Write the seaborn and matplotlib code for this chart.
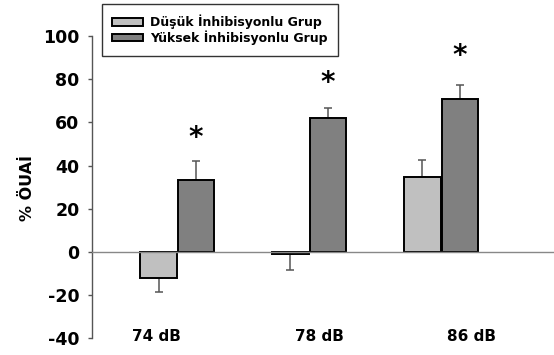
import matplotlib
matplotlib.use("Agg")
import matplotlib.pyplot as plt
import seaborn as sns
import pandas as pd
import numpy as np

categories = ["74 dB", "78 dB", "86 dB"]
groups = ["Düşük İnhibisyonlu Grup", "Yüksek İnhibisyonlu Grup"]
low_vals = [-12, -1, 34.5]
high_vals = [33.3, 62.2, 71]
low_err = [6.5, 7.5, 8]
high_err = [9, 4.5, 6.2]
stars_y = [53, 78, 90.5]
yticks = [-40, -20, 0, 20, 40, 60, 80, 100]
label_offsets = [-0.16, 0.08, 0.23]

sns.set_theme(style="white")
plt.rcParams['font.family'] = ['DejaVu Sans']
plt.rcParams['text.color'] = 'black'
plt.rcParams['axes.labelcolor'] = 'black'
plt.rcParams['ytick.color'] = 'black'

df = pd.DataFrame({
    "cat": categories * 2,
    "grp": [groups[0]] * 3 + [groups[1]] * 3,
    "val": low_vals + high_vals,
})

fig = plt.figure(figsize=(5.54, 3.55), dpi=100)
ax_left, ax_bottom_px, ax_top_px = 91.5, 340.6, 1.4
ax = fig.add_axes([ax_left/554, 1 - ax_bottom_px/355, 1 - ax_left/554,
                   (ax_bottom_px - ax_top_px)/355])

sns.barplot(data=df, x="cat", y="val", hue="grp", hue_order=groups,
            palette=["#c0c0c0", "#808080"], width=0.57, gap=0.035,
            edgecolor="black", linewidth=1.4, errorbar=None, ax=ax, zorder=3)

bar_containers = list(ax.containers)[:2]
errs = [low_err, high_err]
vals = [low_vals, high_vals]
for gi, cont in enumerate(bar_containers):
    for i, bar in enumerate(cont.patches):
        xc = bar.get_x() + bar.get_width() / 2
        v = vals[gi][i]
        e = errs[gi][i]
        if v >= 0:
            yerr = [[0], [e]]
        else:
            yerr = [[e], [0]]
        ax.errorbar([xc], [v], yerr=yerr, fmt="none", ecolor="#555555",
                    elinewidth=1.1, capsize=2.8, capthick=1.1, zorder=2)
        if gi == 1:
            ax.text(xc, stars_y[i], "*", ha="center", va="center",
                    fontsize=20, fontweight="bold", color="black")

ax.axhline(0, color="#888888", linewidth=1.0, zorder=4)
ax.set_ylim(-41, 116)
ax.set_xlim(-0.651, 2.855)
ax.set_yticks(yticks)
ax.set_yticklabels([str(t) for t in yticks], fontsize=12.5, fontweight="bold")
ax.tick_params(axis="y", length=3.2, width=1, color="#555555", left=True, pad=5.5)
ax.set_xticks([])
ax.set_xlabel("")
for i, c in enumerate(categories):
    ax.text(i + label_offsets[i], -39, c, ha="center", va="center",
            fontsize=11, fontweight="bold")
ax.set_ylabel("% ÖUAİ", fontsize=11.5, fontweight="bold")
ax.yaxis.set_label_coords(-0.122, 0.45)

for s in ["top", "right", "bottom"]:
    ax.spines[s].set_visible(False)
ax.spines["left"].set_bounds(-40, 100)
ax.spines["left"].set_color("#555555")
ax.spines["left"].set_linewidth(1)

leg = ax.legend(loc="upper left", bbox_to_anchor=(101.5/554, 1 - 4/355),
                bbox_transform=fig.transFigure, frameon=True,
                fancybox=False, edgecolor="black", fontsize=9,
                handlelength=2.5, handleheight=0.55, borderpad=0.85,
                labelspacing=0.1, handletextpad=0.55, borderaxespad=0)
leg.get_frame().set_linewidth(1.0)
for t in leg.get_texts():
    t.set_fontweight("bold")

fig.savefig("out.png", dpi=100)
